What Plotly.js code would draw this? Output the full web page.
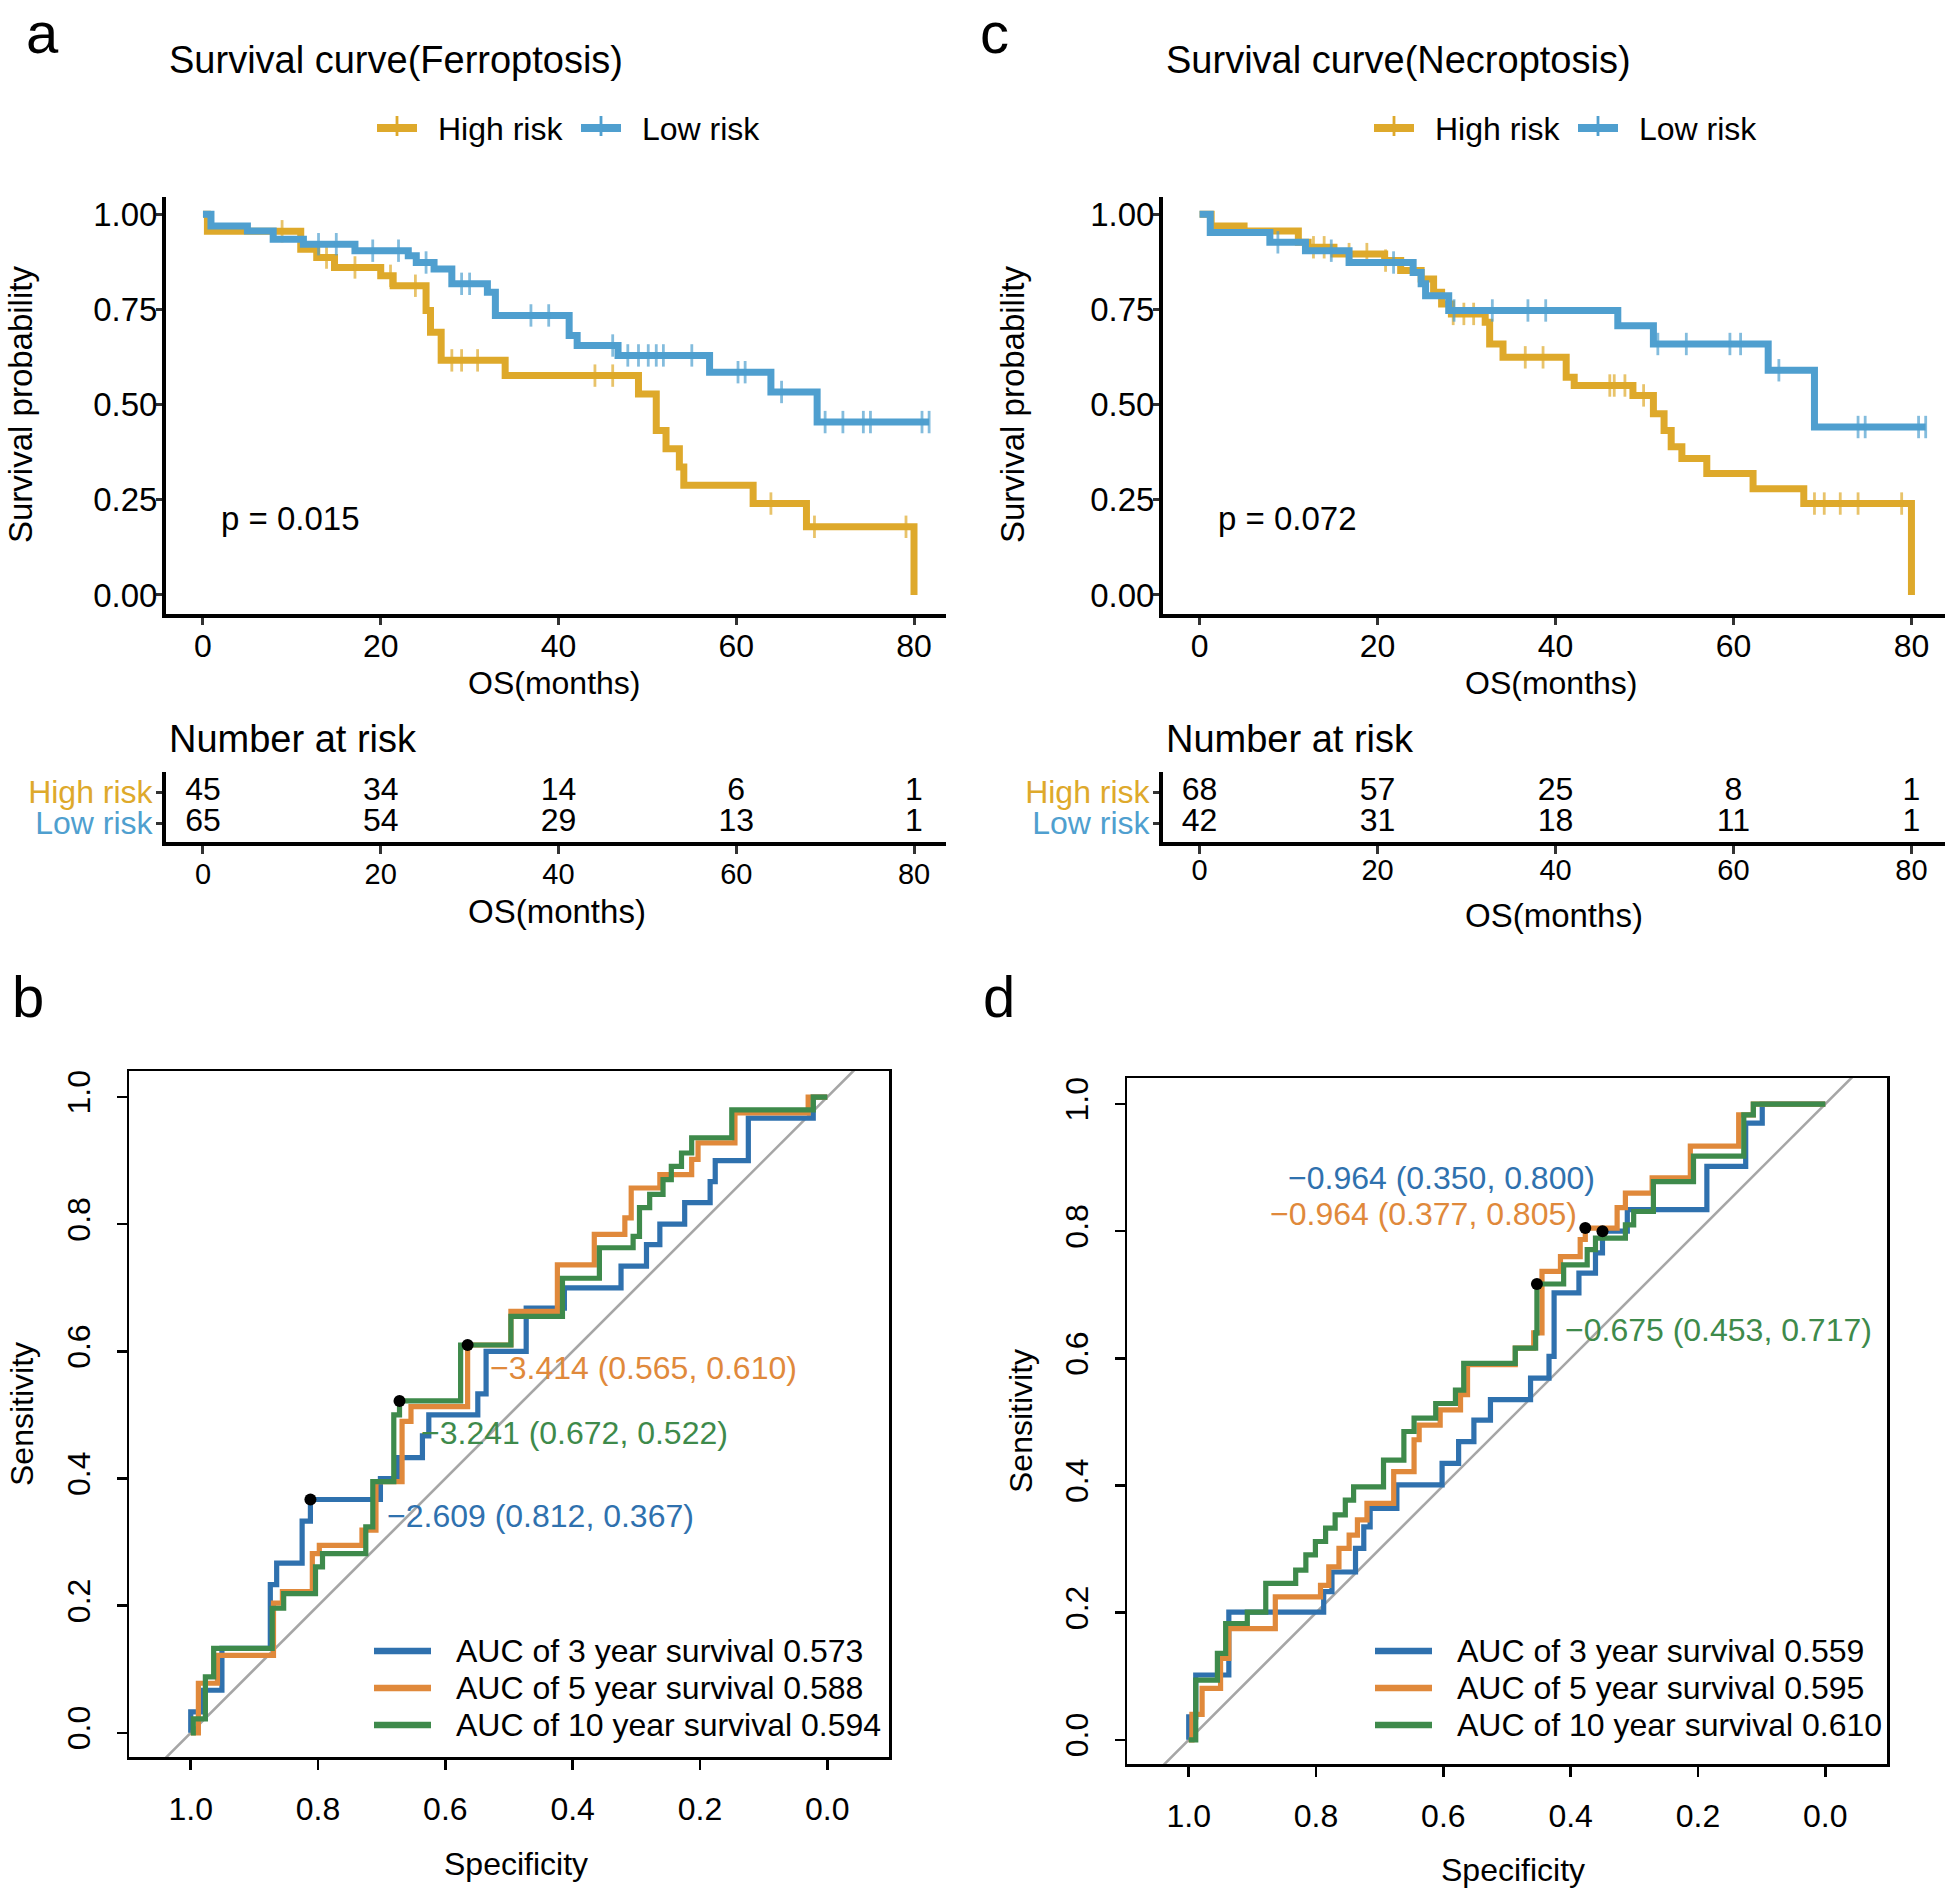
<!DOCTYPE html>
<html>
<head>
<meta charset="utf-8">
<script src="https://cdn.plot.ly/plotly-3.0.1.min.js"></script>
<style>
  html, body { margin: 0; padding: 0; background: #fff; }
  #fig { width: 1952px; height: 1888px; }
</style>
</head>
<body>
<div id="fig"></div>
<script>
const W = 1952, H = 1888;
const FONT = "Liberation Sans, Arial, Helvetica, sans-serif";

const HIGH_COL = "#DEA92B";
const LOW_COL = "#4F9FCF";
const ROC_COLS = ["#2F71AE", "#E0893B", "#3E8A4B"];

// ---- panel a: Ferroptosis survival (step times / survival, censor times)
const ferroHighTime = [0, 0.5, 11.0, 12.8, 14.8, 20.0, 21.4, 25.1, 25.6, 26.8, 34.0, 49.0, 51.0, 52.1, 53.6, 54.1, 61.9, 67.9, 80.0];
const ferroHighSurv = [1, 0.955, 0.908, 0.886, 0.860, 0.838, 0.812, 0.747, 0.690, 0.616, 0.576, 0.528, 0.432, 0.384, 0.336, 0.288, 0.240, 0.179, 0];
const ferroHighCens = [8.9, 13.9, 17.1, 21.1, 23.9, 28.0, 29.1, 30.9, 44.1, 46.1, 63.9, 68.8, 79.1];
const ferroLowTime = [0, 0.9, 5.0, 7.9, 11.3, 17.1, 23.1, 24.0, 26.0, 28.0, 32.0, 32.9, 41.2, 42.1, 46.7, 57.0, 63.9, 69.1];
const ferroLowSurv = [1, 0.969, 0.956, 0.934, 0.921, 0.904, 0.891, 0.873, 0.856, 0.817, 0.795, 0.734, 0.681, 0.655, 0.629, 0.585, 0.533, 0.454];
const ferroLowCens = [13.0, 15.0, 19.1, 22.0, 25.1, 29.1, 30.0, 36.9, 38.9, 46.1, 47.8, 49.0, 50.1, 51.0, 51.8, 55.0, 60.2, 61.0, 65.1, 70.0, 72.0, 74.3, 75.1, 80.9, 81.7];

// ---- panel c: Necroptosis survival
const necroHighTime = [0, 1.3, 5.0, 11.1, 12.2, 15.1, 20.8, 22.6, 24.9, 26.3, 27.2, 28.3, 32.1, 32.6, 34.1, 41.2, 42.1, 48.7, 51.0, 52.2, 53.0, 54.2, 57.0, 62.2, 67.9, 80.0];
const necroHighSurv = [1, 0.969, 0.956, 0.926, 0.913, 0.895, 0.878, 0.852, 0.830, 0.795, 0.764, 0.738, 0.716, 0.659, 0.624, 0.572, 0.550, 0.524, 0.476, 0.432, 0.389, 0.358, 0.319, 0.279, 0.240, 0];
const necroHighCens = [12.8, 14.0, 16.8, 18.8, 20.9, 28.5, 29.7, 30.8, 36.6, 38.6, 46.1, 46.6, 47.8, 49.9, 69.1, 70.2, 72.0, 74.0, 78.9];
const necroLowTime = [0, 1.2, 7.9, 11.9, 16.8, 24.0, 24.9, 25.4, 28.0, 47.0, 51.0, 63.9, 69.1];
const necroLowSurv = [1, 0.952, 0.926, 0.904, 0.873, 0.847, 0.817, 0.786, 0.747, 0.707, 0.659, 0.590, 0.441];
const necroLowCens = [8.8, 14.8, 21.8, 28.6, 32.9, 36.9, 38.9, 51.5, 54.7, 59.6, 60.8, 65.1, 74.0, 74.8, 80.8, 81.6];

const groups = ["High risk", "Low risk"];
const pValues = ["0.015", "0.072"];

// number at risk
const riskTimes = [0, 20, 40, 60, 80];
const ferroRiskHigh = [45, 34, 14, 6, 1];
const ferroRiskLow = [65, 54, 29, 13, 1];
const necroRiskHigh = [68, 57, 25, 8, 1];
const necroRiskLow = [42, 31, 18, 11, 1];

// ---- panel b: ROC (Ferroptosis), corner points (specificity, sensitivity)
const ferroRoc3Spec = [1, 1, 0.982, 0.951, 0.875, 0.865, 0.825, 0.812, 0.702, 0.675, 0.636, 0.626, 0.549, 0.536, 0.473, 0.413, 0.324, 0.284, 0.263, 0.224, 0.184, 0.176, 0.124, 0.022, 0];
const ferroRoc3Sens = [0, 0.033, 0.067, 0.133, 0.233, 0.267, 0.333, 0.367, 0.400, 0.433, 0.467, 0.500, 0.533, 0.600, 0.668, 0.700, 0.734, 0.768, 0.800, 0.834, 0.867, 0.900, 0.967, 1.0, 1.0];
const ferroRoc5Spec = [1, 0.988, 0.958, 0.870, 0.856, 0.809, 0.798, 0.731, 0.709, 0.668, 0.654, 0.565, 0.497, 0.424, 0.366, 0.318, 0.308, 0.263, 0.213, 0.203, 0.145, 0.030, 0];
const ferroRoc5Sens = [0, 0.078, 0.122, 0.204, 0.222, 0.282, 0.295, 0.319, 0.395, 0.490, 0.513, 0.610, 0.663, 0.736, 0.784, 0.810, 0.857, 0.878, 0.902, 0.928, 0.975, 1.0, 1.0];
const ferroRoc10Spec = [1, 0.996, 0.977, 0.964, 0.872, 0.854, 0.804, 0.793, 0.725, 0.714, 0.681, 0.672, 0.576, 0.497, 0.416, 0.358, 0.305, 0.295, 0.279, 0.258, 0.245, 0.229, 0.213, 0.150, 0.022, 0];
const ferroRoc10Sens = [0, 0.022, 0.088, 0.133, 0.196, 0.219, 0.261, 0.282, 0.324, 0.395, 0.500, 0.522, 0.610, 0.655, 0.715, 0.763, 0.781, 0.826, 0.847, 0.870, 0.891, 0.912, 0.936, 0.980, 1.0, 1.0];
const ferroAuc = [0.573, 0.588, 0.594];
const ferroCutThr = ["\u22122.609", "\u22123.414", "\u22123.241"];
const ferroCutSpec = [0.812, 0.565, 0.672];
const ferroCutSens = [0.367, 0.610, 0.522];

// ---- panel d: ROC (Necroptosis)
const necroRoc3Spec = [1, 1, 0.989, 0.937, 0.788, 0.775, 0.738, 0.725, 0.715, 0.673, 0.602, 0.576, 0.552, 0.526, 0.463, 0.434, 0.426, 0.387, 0.361, 0.350, 0.311, 0.186, 0.125, 0.099, 0];
const necroRoc3Sens = [0, 0.036, 0.102, 0.201, 0.233, 0.264, 0.301, 0.335, 0.364, 0.401, 0.435, 0.469, 0.503, 0.535, 0.569, 0.603, 0.703, 0.734, 0.766, 0.800, 0.834, 0.902, 0.970, 1.0, 1.0];
const necroRoc5Spec = [1, 0.995, 0.979, 0.950, 0.937, 0.864, 0.793, 0.780, 0.764, 0.748, 0.735, 0.720, 0.678, 0.646, 0.638, 0.605, 0.573, 0.562, 0.487, 0.458, 0.445, 0.416, 0.385, 0.377, 0.327, 0.314, 0.272, 0.212, 0.136, 0.113, 0];
const necroRoc5Sens = [0, 0.040, 0.081, 0.128, 0.175, 0.225, 0.243, 0.272, 0.301, 0.322, 0.346, 0.372, 0.422, 0.472, 0.495, 0.519, 0.543, 0.590, 0.616, 0.640, 0.737, 0.760, 0.787, 0.805, 0.837, 0.860, 0.884, 0.934, 0.983, 1.0, 1.0];
const necroRoc10Spec = [1, 0.989, 0.955, 0.942, 0.908, 0.879, 0.832, 0.816, 0.801, 0.785, 0.770, 0.754, 0.741, 0.694, 0.662, 0.646, 0.612, 0.581, 0.568, 0.487, 0.455, 0.453, 0.411, 0.374, 0.361, 0.314, 0.301, 0.270, 0.207, 0.128, 0.113, 0];
const necroRoc10Sens = [0, 0.094, 0.136, 0.183, 0.201, 0.246, 0.267, 0.291, 0.312, 0.333, 0.354, 0.377, 0.398, 0.440, 0.485, 0.506, 0.529, 0.550, 0.592, 0.616, 0.640, 0.717, 0.747, 0.771, 0.789, 0.810, 0.831, 0.878, 0.918, 0.983, 1.0, 1.0];
const necroAuc = [0.559, 0.595, 0.610];
const necroCutThr = ["\u22120.964", "\u22120.964", "\u22120.675"];
const necroCutSpec = [0.350, 0.377, 0.453];
const necroCutSens = [0.800, 0.805, 0.717];

const rocYears = [3, 5, 10];

// pixel helpers (page is laid out in absolute pixels)
const px = v => v / W;
const py = v => 1 - v / H;
const dx = (a, b) => [a / W, b / W];
const dy = (top, bottom) => [1 - bottom / H, 1 - top / H];

function kmPoints(times, surv, cens) {
  const pts = times.map((t, i) => ({ t, s: surv[i], c: 0 }));
  cens.forEach(t => {
    let s = 1;
    times.forEach((tt, i) => { if (tt <= t) s = surv[i]; });
    pts.push({ t, s, c: 1 });
  });
  pts.sort((a, b) => a.t - b.t || a.c - b.c);
  return pts;
}

function kmTrace(times, surv, cens, color, xa, ya) {
  const pts = kmPoints(times, surv, cens);
  return {
    type: "scatter", mode: "lines+markers", xaxis: xa, yaxis: ya,
    x: pts.map(p => p.t), y: pts.map(p => p.s),
    line: { shape: "hv", color: color, width: 7 },
    marker: { symbol: "line-ns-open", color: color, size: pts.map(p => p.c ? 16 : 0), line: { color: color, width: 2.8 } },
    showlegend: false, hoverinfo: "skip", cliponaxis: false
  };
}

function riskTrace(high, low, xa, ya) {
  return {
    type: "scatter", mode: "text", xaxis: xa, yaxis: ya,
    x: riskTimes.concat(riskTimes),
    y: riskTimes.map(() => 1).concat(riskTimes.map(() => 0)),
    text: high.concat(low).map(String),
    textfont: { family: FONT, size: 32, color: "#000" },
    showlegend: false, hoverinfo: "skip", cliponaxis: false
  };
}

function rocTraces(specs, senss, cutSpec, cutSens, xa, ya) {
  const out = [{
    type: "scatter", mode: "lines", xaxis: xa, yaxis: ya,
    x: [1.2, -0.2], y: [-0.2, 1.2],
    line: { color: "#A6A6A6", width: 2.6 }, showlegend: false, hoverinfo: "skip"
  }];
  specs.forEach((s, i) => {
    out.push({
      type: "scatter", mode: "lines", xaxis: xa, yaxis: ya,
      x: s, y: senss[i], line: { shape: "hv", color: ROC_COLS[i], width: 5.2 },
      showlegend: false, hoverinfo: "skip"
    });
  });
  out.push({
    type: "scatter", mode: "markers", xaxis: xa, yaxis: ya,
    x: cutSpec, y: cutSens, marker: { color: "#000", size: 12 },
    showlegend: false, hoverinfo: "skip", cliponaxis: false
  });
  return out;
}

const data = [
  kmTrace(ferroHighTime, ferroHighSurv, ferroHighCens, HIGH_COL, "x", "y"),
  kmTrace(ferroLowTime, ferroLowSurv, ferroLowCens, LOW_COL, "x", "y"),
  riskTrace(ferroRiskHigh, ferroRiskLow, "x2", "y2"),
  kmTrace(necroHighTime, necroHighSurv, necroHighCens, HIGH_COL, "x3", "y3"),
  kmTrace(necroLowTime, necroLowSurv, necroLowCens, LOW_COL, "x3", "y3"),
  riskTrace(necroRiskHigh, necroRiskLow, "x4", "y4"),
  ...rocTraces([ferroRoc3Spec, ferroRoc5Spec, ferroRoc10Spec], [ferroRoc3Sens, ferroRoc5Sens, ferroRoc10Sens], ferroCutSpec, ferroCutSens, "x5", "y5"),
  ...rocTraces([necroRoc3Spec, necroRoc5Spec, necroRoc10Spec], [necroRoc3Sens, necroRoc5Sens, necroRoc10Sens], necroCutSpec, necroCutSens, "x6", "y6")
];

const tf = size => ({ family: FONT, size: size, color: "#000" });

function kmX(domain, range, anchor) {
  return {
    domain: domain, range: range, anchor: anchor, tick0: 0, dtick: 20,
    showline: true, linewidth: 4, linecolor: "#000", ticks: "outside", ticklen: 7, tickwidth: 3, tickcolor: "#333",
    showgrid: false, zeroline: false, tickfont: tf(32), ticklabelstandoff: -6
  };
}
function kmY(domain, anchor) {
  return {
    domain: domain, range: [-0.05, 1.045], anchor: anchor, tick0: 0, dtick: 0.25, tickformat: ".2f",
    showline: true, linewidth: 4, linecolor: "#000", ticks: "outside", ticklen: 6, tickwidth: 3, tickcolor: "#333",
    showgrid: false, zeroline: false, tickfont: tf(33), ticklabelstandoff: -8
  };
}
function tableX(domain, range, anchor, standoff) {
  return {
    domain: domain, range: range, anchor: anchor, tick0: 0, dtick: 20,
    showline: true, linewidth: 4, linecolor: "#000", ticks: "outside", ticklen: 8, tickwidth: 3, tickcolor: "#333",
    showgrid: false, zeroline: false, tickfont: tf(29), ticklabelstandoff: standoff
  };
}
function tableY(domain, anchor) {
  return {
    domain: domain, range: [-0.61, 1.645], anchor: anchor,
    tickvals: [1, 0],
    ticktext: groups.map((g, i) => `<span style="color:${i === 0 ? HIGH_COL : LOW_COL}">${g}</span>`),
    showline: true, linewidth: 4, linecolor: "#000", ticks: "outside", ticklen: 6, tickwidth: 3, tickcolor: "#333",
    showgrid: false, zeroline: false, tickfont: tf(32), ticklabelstandoff: -3
  };
}
function rocX(domain, anchor) {
  return {
    domain: domain, range: [1.097, -0.097], anchor: anchor, tick0: 0, dtick: 0.2, tickformat: ".1f",
    showline: true, mirror: true, linewidth: 2.5, linecolor: "#000", ticks: "outside", ticklen: 10, tickwidth: 2.5, tickcolor: "#000",
    showgrid: false, zeroline: false, tickfont: tf(32), ticklabelstandoff: 12
  };
}
function rocY(domain, anchor) {
  return {
    domain: domain, range: [-0.038, 1.041], anchor: anchor, tick0: 0, dtick: 0.2, tickformat: ".1f", tickangle: -90,
    showline: true, mirror: true, linewidth: 2.5, linecolor: "#000", ticks: "outside", ticklen: 10, tickwidth: 2.5, tickcolor: "#000",
    showgrid: false, zeroline: false, tickfont: tf(32), ticklabelstandoff: 14
  };
}

const annotations = [];
const shapes = [];

function txt(text, x, y, size, opts) {
  annotations.push(Object.assign({
    text: text, x: px(x), y: py(y), xref: "paper", yref: "paper",
    showarrow: false, xanchor: "left", yanchor: "middle", font: tf(size)
  }, opts || {}));
}

// panel letters
txt("a", 24, 33, 58);
txt("c", 978, 33, 58);
txt("b", 10, 997, 58);
txt("d", 981, 997, 58);

// KM panels (a at offset 0, c at offset 997)
[["Ferroptosis", 0, "x", "y", pValues[0], 911, 20], ["Necroptosis", 997, "x3", "y3", pValues[1], 915, 15]].forEach(([name, off, xa, ya, p, osY, ytX]) => {
  txt(`Survival curve(${name})`, 167 + off, 60, 38);
  // legend
  [[HIGH_COL, 377, groups[0]], [LOW_COL, 581, groups[1]]].forEach(([col, x0, label]) => {
    shapes.push({ type: "line", xref: "paper", yref: "paper", x0: px(x0 + off), x1: px(x0 + 40 + off), y0: py(128), y1: py(128), line: { color: col, width: 8 } });
    shapes.push({ type: "line", xref: "paper", yref: "paper", x0: px(x0 + 20 + off), x1: px(x0 + 20 + off), y0: py(116), y1: py(136), line: { color: col, width: 2.8 } });
    txt(label, x0 + 59 + off, 129, 32);
  });
  txt("Survival probability", ytX + off, 405, 33, { xanchor: "center", textangle: -90 });
  txt("OS(months)", 554 + off, 683, 32, { xanchor: "center" });
  txt("Number at risk", 167 + off, 739, 38);
  txt("OS(months)", 557 + off, osY, 33, { xanchor: "center" });
  annotations.push({ text: `p = ${p}`, x: 1.8, y: 0.2, xref: xa, yref: ya, showarrow: false, xanchor: "left", yanchor: "middle", font: tf(33) });
});

// ROC panels
function rocAnnots(xa, ya, thr, cs, cn, shifts, legendX, textX, auc) {
  thr.forEach((t, i) => {
    const sh = shifts[i];
    annotations.push({
      text: `${t} (${cs[i].toFixed(3)}, ${cn[i].toFixed(3)})`, x: cs[i], y: cn[i], xref: xa, yref: ya,
      showarrow: false, xanchor: sh[0], yanchor: "middle", xshift: sh[1], yshift: sh[2],
      font: { family: FONT, size: 32, color: ROC_COLS[i] }
    });
  });
  const rowsY = [1651, 1688, 1725];
  rocYears.forEach((yr, i) => {
    shapes.push({ type: "line", xref: "paper", yref: "paper", x0: px(legendX), x1: px(legendX + 57), y0: py(rowsY[i]), y1: py(rowsY[i]), line: { color: ROC_COLS[i], width: 6.5 } });
    txt(`AUC of ${yr} year survival ${auc[i].toFixed(3)}`, textX, rowsY[i], 32);
  });
}
rocAnnots("x5", "y5", ferroCutThr, ferroCutSpec, ferroCutSens, [["left", 75, -16], ["left", 20, -23], ["left", 19, -32]], 374, 454, ferroAuc);
rocAnnots("x6", "y6", necroCutThr, necroCutSpec, necroCutSens, [["right", -5, 53], ["right", -6, 14], ["left", 26, -46]], 1375, 1455, necroAuc);

txt("Sensitivity", 22, 1414, 32, { xanchor: "center", textangle: -90 });
txt("Specificity", 516, 1864, 32, { xanchor: "center" });
txt("Sensitivity", 1021, 1421, 32, { xanchor: "center", textangle: -90 });
txt("Specificity", 1513, 1870, 32, { xanchor: "center" });

const layout = {
  width: W, height: H, margin: { l: 0, r: 0, t: 0, b: 0 },
  paper_bgcolor: "#fff", plot_bgcolor: "rgba(0,0,0,0)",
  font: { family: FONT, color: "#000" },
  showlegend: false,
  xaxis: kmX(dx(166, 946), [-4.16, 83.6], "y"),
  yaxis: kmY(dy(197, 614), "x"),
  xaxis2: tableX(dx(166, 946), [-4.16, 83.6], "y2", -5),
  yaxis2: tableY(dy(772, 842), "x2"),
  xaxis3: kmX(dx(1163, 1945), [-4.11, 83.77], "y3"),
  yaxis3: kmY(dy(197, 614), "x3"),
  xaxis4: tableX(dx(1163, 1945), [-4.11, 83.77], "y4", -9),
  yaxis4: tableY(dy(772, 842), "x4"),
  xaxis5: rocX(dx(129, 889), "y5"),
  yaxis5: rocY(dy(1071, 1757), "x5"),
  xaxis6: rocX(dx(1127, 1887), "y6"),
  yaxis6: rocY(dy(1078, 1764), "x6"),
  annotations: annotations,
  shapes: shapes
};

Plotly.newPlot("fig", data, layout, { staticPlot: true });
</script>
</body>
</html>
